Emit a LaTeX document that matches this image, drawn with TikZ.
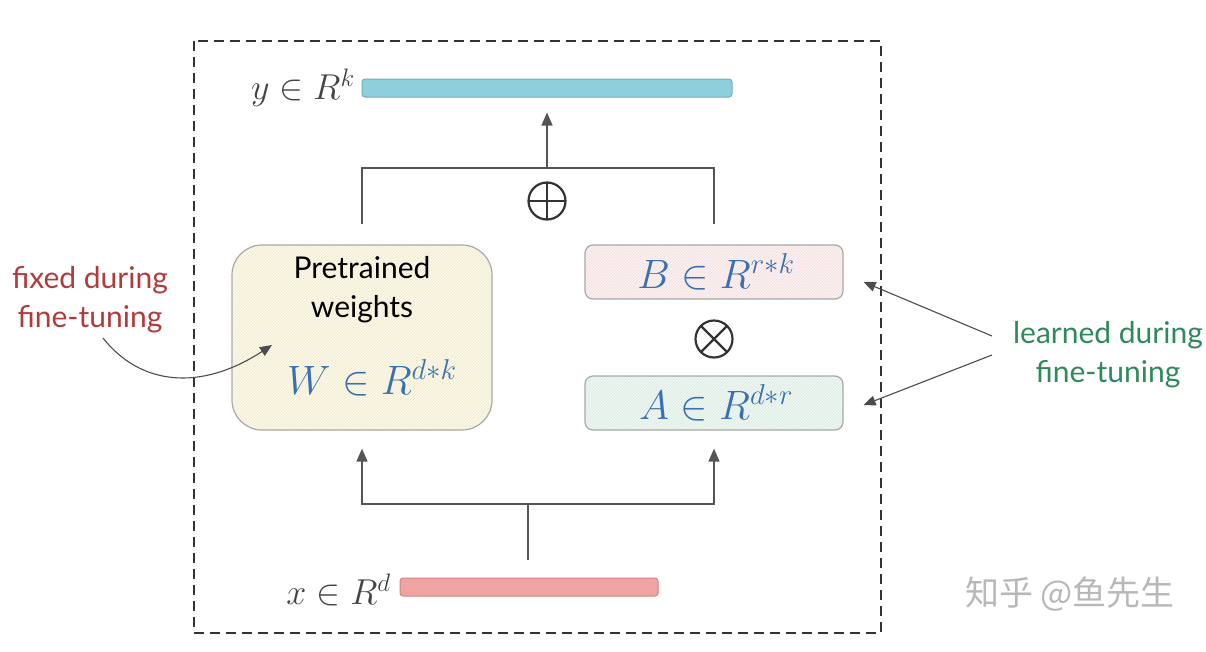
\RequirePackage{fix-cm}
\documentclass[tikz,border=0pt]{standalone}
\usepackage{fontspec}
\usepackage{amsmath}
\setsansfont{Lato}
\newfontfamily\cjkfont{Noto Sans CJK SC}
\usetikzlibrary{arrows.meta,patterns,calc}
\definecolor{framec}{HTML}{333333}
\definecolor{linec}{HTML}{555555}
\definecolor{ybar}{HTML}{8ECFDC}
\definecolor{ybard}{HTML}{6FAFBF}
\definecolor{xbar}{HTML}{F0A3A3}
\definecolor{xbard}{HTML}{D08585}
\definecolor{wfill}{HTML}{FCF9E8}
\definecolor{whatch}{HTML}{EDE8CF}
\definecolor{bfill}{HTML}{FCF1F1}
\definecolor{bhatch}{HTML}{F0DCDC}
\definecolor{afill}{HTML}{EFF7F2}
\definecolor{ahatch}{HTML}{D9EADF}
\definecolor{boxd}{HTML}{A8A8A8}
\definecolor{mathblue}{HTML}{3A70B0}
\definecolor{redtxt}{HTML}{B23A3A}
\definecolor{greentxt}{HTML}{2E8A5A}
\definecolor{graytxt}{HTML}{444444}
\definecolor{wm}{HTML}{B8B8B8}
\tikzset{
  conn/.style={draw=linec, line width=1.5pt},
  arr/.style={conn, -{Triangle[length=13pt,width=11pt]}},
  note/.style={draw=black!70, line width=1.1pt, -{Triangle[length=12pt,width=10pt]}},
  hatchbox/.style={draw=boxd, line width=1.2pt, pattern=north east lines},
  bar/.style={rounded corners=3pt, line width=1pt, inner sep=0pt},
  mathlbl/.style={text=graytxt, font=\fontsize{36}{38}\selectfont, inner sep=0pt},
  bluemath/.style={text=mathblue, font=\fontsize{41}{43}\selectfont, inner sep=0pt},
  hand/.style={font=\sffamily\fontsize{30}{39}\selectfont, align=center, inner sep=0pt},
  opcirc/.style={circle, draw=framec, line width=2.2pt, minimum size=37pt, inner sep=0pt,
     path picture={\draw[framec, line width=2.2pt] (path picture bounding box.north) -- (path picture bounding box.south)
       (path picture bounding box.west) -- (path picture bounding box.east);}},
  mulcirc/.style={circle, draw=framec, line width=2.2pt, minimum size=37pt, inner sep=0pt,
     path picture={\draw[framec, line width=2.2pt] (path picture bounding box.north west) -- (path picture bounding box.south east)
       (path picture bounding box.south west) -- (path picture bounding box.north east);}},
}
\begin{document}
\begin{tikzpicture}[x=1pt,y=-1pt]
\useasboundingbox (0,0) rectangle (1206,651);
% frame
\draw[framec, line width=2pt, dash pattern=on 10pt off 6pt] (194,41) rectangle (881,633);
% output bar
\node[bar, fill=ybar, draw=ybard, minimum width=370pt, minimum height=18pt] (ybar) at (547,88) {};
\node[mathlbl, anchor=east] (ylbl) at (355,88) {$y\in R^k$};
% input bar
\node[bar, fill=xbar, draw=xbard, minimum width=258pt, minimum height=18pt] (xbar) at (529,587) {};
\node[mathlbl, anchor=east] (xlbl) at (391,590) {$x\in R^d$};
% W box
\node[hatchbox, pattern color=whatch, preaction={fill=wfill}, rounded corners=30pt, minimum width=260pt, minimum height=185pt] (W) at (362,337.5) {};
\node[hand] (wtxt) at (362,290) {Pretrained\\weights};
\node[bluemath] (wmath) at (372,378) {$W\in R^{d*k}$};
% B box
\node[hatchbox, pattern color=bhatch, preaction={fill=bfill}, rounded corners=8pt, minimum width=258pt, minimum height=54pt] (B) at (714,272) {};
\node[bluemath] (bmath) at (716,272) {$B\in R^{r*k}$};
% A box
\node[hatchbox, pattern color=ahatch, preaction={fill=afill}, rounded corners=8pt, minimum width=258pt, minimum height=54pt] (A) at (714,403) {};
\node[bluemath] (amath) at (716,403) {$A\in R^{d*r}$};
% operators
\node[opcirc] (plus) at (547,201) {};
\node[mulcirc] (times) at (714,339) {};
% top merge
\coordinate (jt) at (547,168);
\draw[conn] (W.north) ++(0,-20) |- (jt) -| ($(B.north)+(0,-20)$);
\draw[arr] (jt) -- ($(ybar.south)+(0,15)$);
% bottom split
\coordinate (jb) at (528,504);
\draw[conn] ($(xbar.north)+(-1,-18)$) -- (jb);
\draw[arr] (jb) -| ($(W.south)+(0,18)$);
\draw[arr] (jb) -| ($(A.south)+(0,18)$);
% annotations
\node[hand, text=redtxt] (fixed) at (90,300) {fixed during\\fine-tuning};
\coordinate (fixtip) at (272,345);
\draw[note] (103,338) .. controls (140,385) and (200,392) .. (fixtip);
\node[hand, text=greentxt] (learned) at (1108,355) {learned during\\fine-tuning};
\coordinate (lf) at (992,336);
\coordinate (lg) at (992,355);
\draw[note] (lf) -- ($(B.east)+(20,10)$);
\draw[note] (lg) -- ($(A.east)+(20,2)$);
% watermark
\node[text=wm, font=\cjkfont\fontsize{34}{36}\selectfont, inner sep=0pt] (wmk) at (1070,594) {知乎 @鱼先生};
\end{tikzpicture}
\end{document}
